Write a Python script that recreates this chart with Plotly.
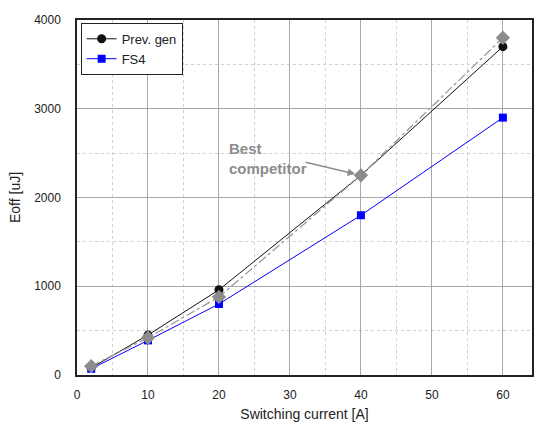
import plotly.graph_objects as go

current = [2, 10, 20, 40, 60]
prev_gen = [80, 450, 960, 2250, 3700]
fs4 = [70, 390, 800, 1800, 2900]
best_comp = [100, 420, 880, 2250, 3800]

x_ticks = [0, 10, 20, 30, 40, 50, 60]
y_ticks = [0, 1000, 2000, 3000, 4000]

fig = go.Figure()
fig.add_trace(go.Scatter(x=current, y=prev_gen, mode="lines+markers", name="Prev. gen",
                         line=dict(color="#111111", width=1),
                         marker=dict(symbol="circle", size=9, color="#111111")))
fig.add_trace(go.Scatter(x=current, y=fs4, mode="lines+markers", name="FS4",
                         line=dict(color="#0000ff", width=1),
                         marker=dict(symbol="square", size=8, color="#0000ff")))
fig.add_trace(go.Scatter(x=current, y=best_comp, mode="lines+markers", showlegend=False,
                         line=dict(color="#999999", width=1.3, dash="dashdot"),
                         marker=dict(symbol="diamond", size=11, color="#8c8c8c")))
fig.add_annotation(x=40, y=2250, ax=32.0, ay=2400, axref="x", ayref="y",
                   xref="x", yref="y", text="", showarrow=True, arrowhead=2,
                   arrowsize=1, arrowwidth=1.5, arrowcolor="#8c8c8c", standoff=6)
fig.add_annotation(x=0.329, y=0.611, xref="paper", yref="paper", xanchor="left", yanchor="middle",
                   text="<b>Best<br>competitor</b>", showarrow=False, align="left",
                   font=dict(family="Liberation Sans, Arial", size=15, color="#8c8c8c"))

grid = "#a8a8a8"
fig.update_xaxes(range=[0, 64.1], tickvals=x_ticks, showgrid=True, gridcolor=grid, gridwidth=1,
                 minor=dict(dtick=5, showgrid=True, gridcolor="#d0d0d0", griddash="dot", ticks=""),
                 showline=True, linecolor="#222", linewidth=1.5, mirror=True, zeroline=False,
                 ticks="", ticklabelstandoff=8, tickfont=dict(size=12, color="#222"),
                 title=dict(text="Switching current [A]", font=dict(size=14, color="#222"), standoff=8))
fig.update_yaxes(range=[0, 4000], tickvals=y_ticks, showgrid=True, gridcolor=grid, gridwidth=1,
                 minor=dict(dtick=500, showgrid=True, gridcolor="#d0d0d0", griddash="dot", ticks=""),
                 showline=True, linecolor="#222", linewidth=1.5, mirror=True, zeroline=False,
                 ticks="", ticklabelstandoff=12, tickfont=dict(size=12, color="#222"),
                 title=dict(text="Eoff [uJ]", font=dict(size=14, color="#222"), standoff=10))
fig.update_layout(width=534, height=432, margin=dict(l=77, r=0, t=20, b=57),
                  plot_bgcolor="white", paper_bgcolor="white",
                  font=dict(family="Liberation Sans, Arial", color="#222"),
                  legend=dict(x=0.008, y=0.992, xanchor="left", yanchor="top",
                              bgcolor="white", bordercolor="#222", borderwidth=1,
                              font=dict(size=13), tracegroupgap=0, itemwidth=30))
fig.write_html("out.html")
